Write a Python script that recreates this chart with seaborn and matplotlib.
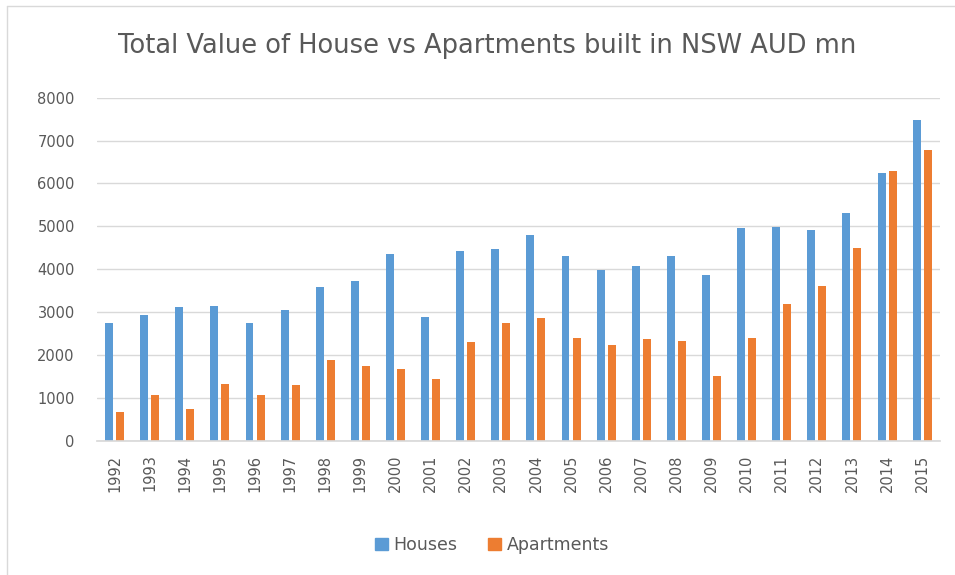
import pandas as pd
import numpy as np
import seaborn as sns
import matplotlib.pyplot as plt
from matplotlib.lines import Line2D

# data (AUD mn)
years = [str(y) for y in range(1992, 2016)]
houses = [2740, 2920, 3110, 3150, 2740, 3040, 3590, 3720, 4350, 2890, 4420, 4460,
          4790, 4310, 3980, 4080, 4310, 3860, 4950, 4980, 4910, 5320, 6250, 7490]
apartments = [680, 1060, 750, 1320, 1060, 1290, 1880, 1740, 1660, 1430, 2290, 2740,
              2850, 2400, 2220, 2360, 2330, 1500, 2400, 3190, 3600, 4490, 6290, 6770]

df = pd.DataFrame({'Year': years * 2,
                   'Value': houses + apartments,
                   'Type': ['Houses'] * len(years) + ['Apartments'] * len(years)})

sns.set_theme(style='white')
plt.rcParams['font.family'] = ['DejaVu Sans']
grey = '#595959'

fig = plt.figure(figsize=(9.55, 5.75), dpi=100)
ax = fig.add_axes([0.1016, 0.2336, 0.8824, 0.5966])

sns.barplot(data=df, x='Year', y='Value', hue='Type', ax=ax,
            palette=['#5B9BD5', '#ED7D31'], width=0.63, gap=0.28,
            saturation=1, legend=False, linewidth=0)

ax.set_ylim(0, 8000)
ax.set_yticks(range(0, 8001, 1000))
ax.set_xlim(-0.5, len(years) - 0.5)
ax.yaxis.grid(True, color='#D9D9D9', linewidth=1)
ax.set_axisbelow(True)
for s in ['top', 'right', 'left']:
    ax.spines[s].set_visible(False)
ax.spines['bottom'].set_color('#D9D9D9')
ax.tick_params(axis='y', length=0, pad=16, labelsize=10.5, labelcolor=grey)
ax.tick_params(axis='x', length=0, pad=10, labelsize=10.5, labelcolor=grey, rotation=90)
ax.set_xlabel('')
ax.set_ylabel('')

fig.text(0.51, 1 - 46 / 575, 'Total Value of House vs Apartments built in NSW AUD mn',
         ha='center', va='center', fontsize=18.5, color=grey)

handles = [plt.Rectangle((0, 0), 1, 1, color='#5B9BD5'),
           plt.Rectangle((0, 0), 1, 1, color='#ED7D31')]
fig.legend(handles, ['Houses', 'Apartments'], loc='center', ncol=2,
           bbox_to_anchor=(0.515, 1 - 545 / 575), frameon=False,
           fontsize=12.5, labelcolor=grey, handlelength=0.75, handleheight=0.75,
           handletextpad=0.3, columnspacing=1.8)

# light frame on the left and top, as in the original
fig.add_artist(Line2D([7 / 955, 7 / 955], [0, 1 - 6 / 575], color='#D9D9D9', lw=1))
fig.add_artist(Line2D([7 / 955, 1], [1 - 6 / 575, 1 - 6 / 575], color='#D9D9D9', lw=1))

fig.savefig('out.png', dpi=100)
